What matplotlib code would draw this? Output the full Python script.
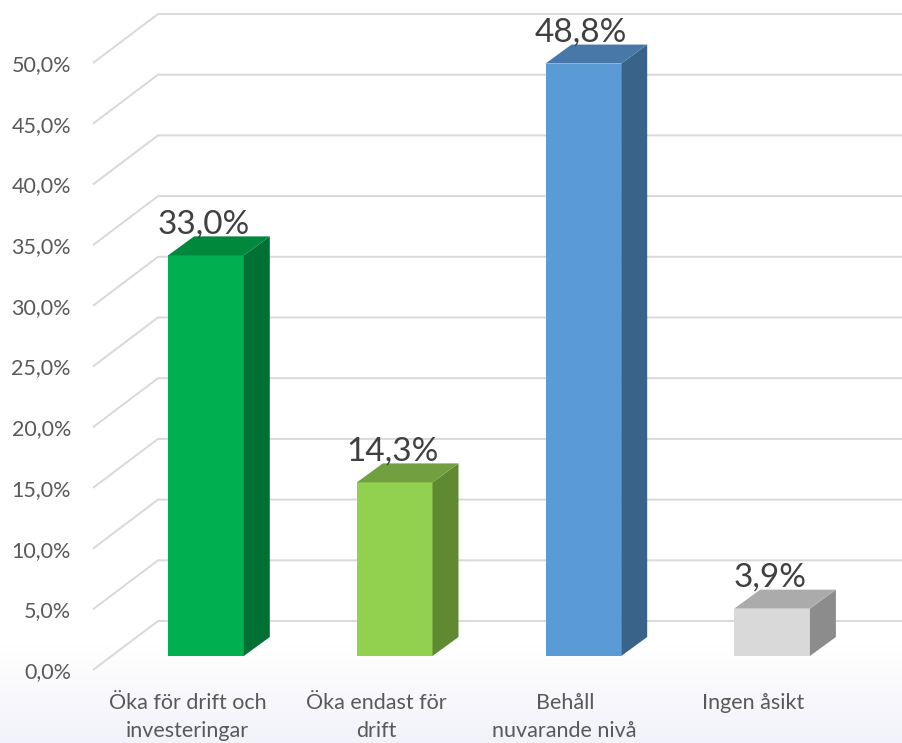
import matplotlib.pyplot as plt
import numpy as np
from matplotlib.colors import LinearSegmentedColormap

categories = ["Öka för drift och\ninvesteringar", "Öka endast för\ndrift",
              "Behåll\nnuvarande nivå", "Ingen åsikt"]
values = [33.0, 14.3, 48.8, 3.9]
front_colors = ["#00B050", "#92D050", "#5B9BD5", "#D9D9D9"]
side_colors = ["#007033", "#5F8A32", "#3A6389", "#8C8C8C"]
top_colors = ["#00883D", "#729F40", "#4878A8", "#ABABAB"]
ticks = [0, 5, 10, 15, 20, 25, 30, 35, 40, 45, 50]

plt.rcParams['font.family'] = ['Lato', 'DejaVu Sans']

# pixel -> data scale (x: category units, y: percent)
px_x = 1 / 188.7
px_y = 1 / 12.14

wall_dx, wall_dy = 65 * px_x, 49 * px_y     # depth of the back wall
front_dx, front_dy = 18.6 * px_x, 14 * px_y  # bar front plane
bar_w = 75.7 * px_x
bar_dx, bar_dy = 26 * px_x, 19 * px_y       # bar depth

fig = plt.figure(figsize=(9.03, 7.43), dpi=100)
ax = fig.add_axes([0, 0, 1, 1])
ax.set_xlim(-0.5 - 93 * px_x, -0.5 + 810 * px_x)
ax.set_ylim(-73 * px_y, 670 * px_y)
ax.axis('off')

# soft lavender band at the bottom
grad = np.linspace(0, 1, 100).reshape(-1, 1)
cmap = LinearSegmentedColormap.from_list("bg", ["#F2F2FA", "#FFFFFF"])
ax.imshow(grad, extent=[0, 1, 0, 0.13], transform=ax.transAxes, aspect='auto',
          origin='lower', cmap=cmap, zorder=0)

# gridlines: left wall diagonal + back wall
x0 = -0.5
for t in ticks:
    ax.plot([x0, x0 + wall_dx, 4], [t, t + wall_dy, t + wall_dy],
            color="#D9D9D9", lw=1.4, solid_capstyle='butt', zorder=1)
    ax.text(x0 - 22 * px_x, t - 2 * px_y, f"{t:.1f}%".replace(".", ","),
            ha='right', va='center', fontsize=15.5, color="#595959")

# 3D-style bars
for i, v in enumerate(values):
    xl = i - bar_w / 2 + front_dx
    xr = xl + bar_w
    yb = front_dy
    yt = front_dy + v
    ax.fill([xl, xr, xr, xl], [yb, yb, yt, yt], color=front_colors[i], lw=0, zorder=3)
    ax.fill([xr, xr + bar_dx, xr + bar_dx, xr],
            [yb, yb + bar_dy, yt + bar_dy, yt], color=side_colors[i], lw=0, zorder=3)
    ax.fill([xl, xr, xr + bar_dx, xl + bar_dx],
            [yt, yt, yt + bar_dy, yt + bar_dy], color=top_colors[i], lw=0, zorder=3)
    ax.text(i + front_dx - 2 * px_x, yt + bar_dy + 3 * px_y,
            f"{v:.1f}%".replace(".", ","), ha='center', va='baseline',
            fontsize=24, color="#404040", zorder=4)

# category labels
for i, c in enumerate(categories):
    ax.text(i, -23 * px_y, c, ha='center', va='top', fontsize=15.5,
            color="#595959", linespacing=1.5)

fig.savefig("out.png", dpi=100)
